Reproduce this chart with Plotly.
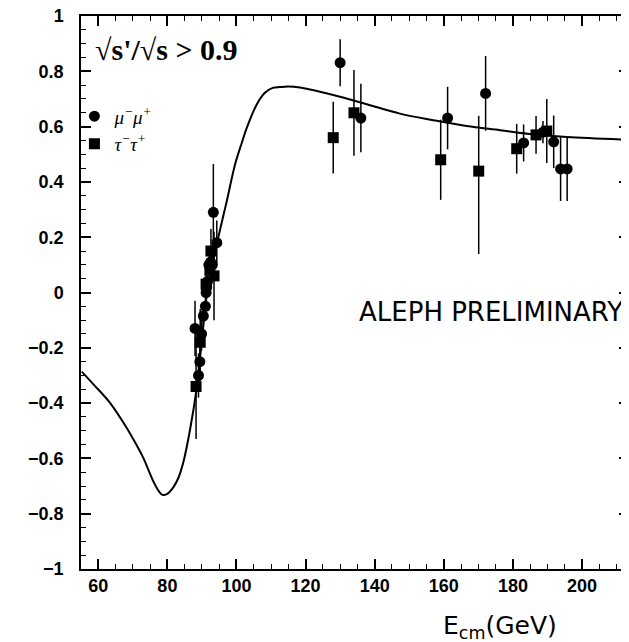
import plotly.graph_objects as go

# Theory curve
curve_x = [55.2, 58.6, 63.4, 68.2, 71.0, 73.0, 75.9, 77.5, 78.6, 80.0, 81.7, 83.2, 84.6, 86.5,
           88.5, 90.0, 91.3, 93.0, 94.7, 97.2, 99.6, 101.5, 103.0, 105.9, 108.3, 110.5, 112.6,
           115.0, 118.4, 128.0, 137.7, 147.3, 157.0, 166.6, 176.3, 185.9, 195.6, 213.6]
curve_y = [-0.286, -0.332, -0.399, -0.489, -0.55, -0.597, -0.682, -0.718, -0.732, -0.728,
           -0.705, -0.67, -0.615, -0.50, -0.344, -0.17, -0.02, 0.10, 0.198, 0.331, 0.464, 0.54,
           0.596, 0.681, 0.723, 0.740, 0.743, 0.745, 0.741, 0.714, 0.681, 0.647, 0.623, 0.602,
           0.587, 0.572, 0.562, 0.552]

# mu+mu- data
mu_x = [88.0, 89.0, 89.4, 89.9, 90.4, 91.0, 91.2, 91.4, 91.6, 92.0, 92.5, 93.0, 93.3, 94.3,
        130.0, 136.0, 161.1, 172.1, 183.1, 188.7, 191.8, 193.8, 195.7]
mu_y = [-0.13, -0.30, -0.25, -0.15, -0.085, -0.05, 0.0, 0.02, 0.04, 0.10, 0.11, 0.10, 0.29, 0.18,
        0.831, 0.631, 0.631, 0.720, 0.541, 0.580, 0.545, 0.447, 0.447]
mu_err = [0.10, 0.08, 0.07, 0.06, 0.04, 0.03, 0.02, 0.02, 0.02, 0.03, 0.04, 0.05, 0.175, 0.08,
          0.085, 0.124, 0.113, 0.135, 0.067, 0.04, 0.095, 0.116, 0.116]

# tau+tau- data
tau_x = [88.3, 89.5, 91.2, 92.3, 92.6, 93.5, 128.0, 134.0, 159.1, 170.1, 181.1, 186.7, 189.8]
tau_y = [-0.34, -0.18, 0.03, 0.08, 0.15, 0.06, 0.56, 0.650, 0.480, 0.439, 0.520, 0.570, 0.584]
tau_err_up = [0.19, 0.12, 0.03, 0.06, 0.08, 0.16, 0.13, 0.155, 0.145, 0.20, 0.09, 0.068, 0.116]
tau_err_dn = [0.19, 0.12, 0.03, 0.06, 0.08, 0.16, 0.13, 0.155, 0.145, 0.30, 0.09, 0.068, 0.116]

x_ticks = [60, 80, 100, 120, 140, 160, 180, 200]
y_ticks = [-1, -0.8, -0.6, -0.4, -0.2, 0, 0.2, 0.4, 0.6, 0.8, 1]
y_ticklabels = ["\u22121", "\u22120.8", "\u22120.6", "\u22120.4", "\u22120.2", "0",
                "0.2", "0.4", "0.6", "0.8", "1"]

fig = go.Figure()
fig.add_trace(go.Scatter(x=curve_x, y=curve_y, mode="lines",
                         line=dict(color="black", width=2, shape="spline", smoothing=1.0),
                         showlegend=False, hoverinfo="skip"))
fig.add_trace(go.Scatter(x=mu_x, y=mu_y, mode="markers", name="<i>\u03bc<sup>\u2212</sup>\u03bc<sup>+</sup></i>",
                         marker=dict(symbol="circle", size=11, color="black"),
                         error_y=dict(type="data", array=mu_err, color="black", thickness=1.5, width=0)))
fig.add_trace(go.Scatter(x=tau_x, y=tau_y, mode="markers", name="<i>\u03c4<sup>\u2212</sup>\u03c4<sup>+</sup></i>",
                         marker=dict(symbol="square", size=11, color="black"),
                         error_y=dict(type="data", symmetric=False, array=tau_err_up,
                                      arrayminus=tau_err_dn, color="black", thickness=1.5, width=0)))

axis_font = dict(family="Liberation Sans, Arial", size=18, color="black", weight="bold")
fig.update_layout(
    width=621, height=635,
    margin=dict(l=73, r=0, t=8, b=74, autoexpand=False),
    paper_bgcolor="white", plot_bgcolor="white",
    showlegend=True,
    legend=dict(x=-0.012, y=0.853, xanchor="left", yanchor="top",
                font=dict(family="Liberation Serif, Times New Roman", size=19, color="black"),
                bgcolor="rgba(0,0,0,0)", tracegroupgap=0, itemwidth=30),
    xaxis=dict(range=[55, 213.6], tickmode="array", tickvals=x_ticks, automargin=False,
               ticks="inside", ticklen=10, tickwidth=1.5, tickcolor="black",
               showline=True, linecolor="black", linewidth=1.5, mirror="allticks",
               showgrid=False, zeroline=False, tickfont=axis_font, ticklabeloverflow="allow",
               minor=dict(dtick=5, ticks="inside", ticklen=5, tickwidth=1.2, tickcolor="black", showgrid=False)),
    yaxis=dict(range=[-1, 1], tickmode="array", tickvals=y_ticks, ticktext=y_ticklabels, automargin=False,
               ticks="inside", ticklen=10, tickwidth=1.5, tickcolor="black",
               showline=True, linecolor="black", linewidth=1.5, mirror="allticks",
               showgrid=False, zeroline=False, tickfont=axis_font, ticklabelstandoff=12,
               ticklabeloverflow="allow",
               minor=dict(dtick=0.05, ticks="inside", ticklen=5, tickwidth=1.2, tickcolor="black", showgrid=False)),
    annotations=[
        dict(text="<b>\u221as'/\u221as > 0.9</b>", xref="paper", yref="paper",
             x=0.022, y=0.94, xanchor="left", yanchor="middle", showarrow=False,
             font=dict(family="Liberation Serif, Times New Roman", size=30, color="black", weight="bold")),
        dict(text="ALEPH PRELIMINARY", xref="paper", yref="paper",
             x=0.748, y=0.465, xanchor="center", yanchor="middle", showarrow=False,
             font=dict(family="DejaVu Sans", size=26, color="black")),
        dict(text="E<sub>cm</sub>(GeV)", xref="paper", yref="paper",
             x=0.765, y=-0.105, xanchor="center", yanchor="middle", showarrow=False,
             font=dict(family="DejaVu Sans", size=25, color="black")),
    ],
)

fig.write_html("out.html")
